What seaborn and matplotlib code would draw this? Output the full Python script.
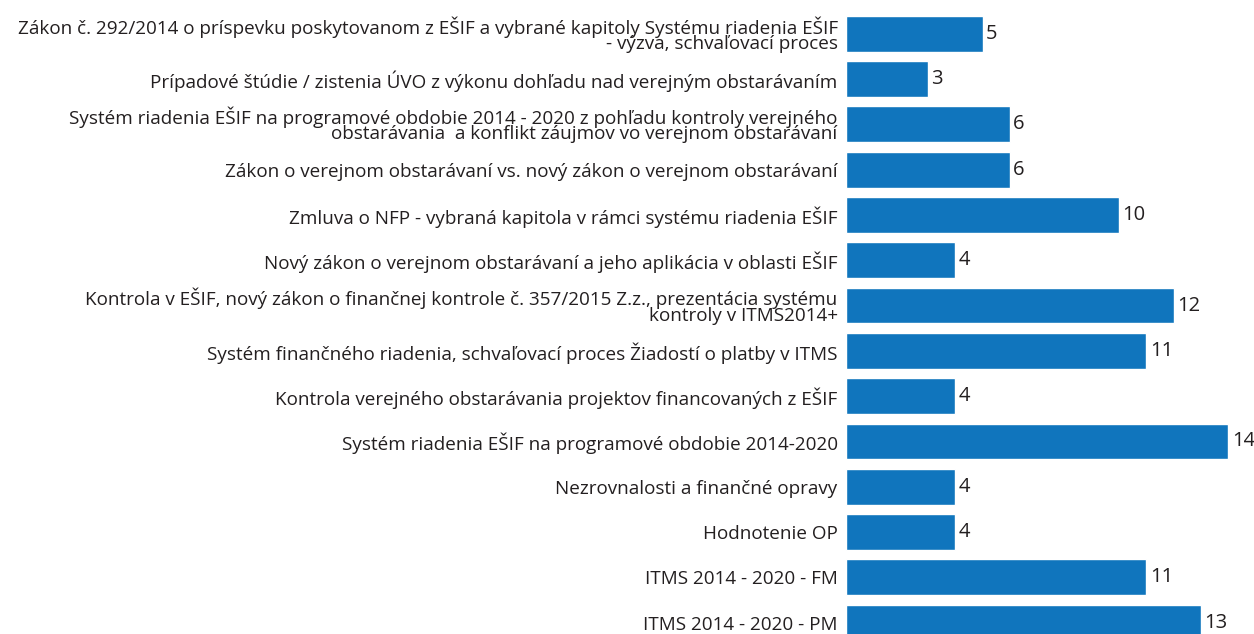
import matplotlib
matplotlib.use("Agg")
import matplotlib.pyplot as plt
import seaborn as sns
import pandas as pd

# Data
categories = [
    "Zákon č. 292/2014 o príspevku poskytovanom z EŠIF a vybrané kapitoly Systému riadenia EŠIF\n- výzva, schvaľovací proces",
    "Prípadové štúdie / zistenia ÚVO z výkonu dohľadu nad verejným obstarávaním",
    "Systém riadenia EŠIF na programové obdobie 2014 - 2020 z pohľadu kontroly verejného\nobstarávania  a konflikt záujmov vo verejnom obstarávaní",
    "Zákon o verejnom obstarávaní vs. nový zákon o verejnom obstarávaní",
    "Zmluva o NFP - vybraná kapitola v rámci systému riadenia EŠIF",
    "Nový zákon o verejnom obstarávaní a jeho aplikácia v oblasti EŠIF",
    "Kontrola v EŠIF, nový zákon o finančnej kontrole č. 357/2015 Z.z., prezentácia systému\nkontroly v ITMS2014+",
    "Systém finančného riadenia, schvaľovací proces Žiadostí o platby v ITMS",
    "Kontrola verejného obstarávania projektov financovaných z EŠIF",
    "Systém riadenia EŠIF na programové obdobie 2014-2020",
    "Nezrovnalosti a finančné opravy",
    "Hodnotenie OP",
    "ITMS 2014 - 2020 - FM",
    "ITMS 2014 - 2020 - PM",
]
counts = [5, 3, 6, 6, 10, 4, 12, 11, 4, 14, 4, 4, 11, 13]

BAR_COLOR = "#1075BD"
TEXT_COLOR = "#231F20"

sns.set_style("white")
plt.rcParams["font.family"] = ["Open Sans", "DejaVu Sans"]

df = pd.DataFrame({"tema": categories, "pocet": counts})

fig = plt.figure(figsize=(12.54, 6.34), dpi=100)
left = 846 / 1254
ax = fig.add_axes([left, 0, 1 - left, 1])

sns.barplot(data=df, y="tema", x="pocet", orient="h", color=BAR_COLOR,
            saturation=1, width=0.79, ax=ax)

# scale: ~27.3 px per unit, ~45.3 px per row
ax.set_xlim(0, 408 / 27.3)
ax.set_ylim(13.25, -0.746)

ax.set_yticks(range(len(categories)))
ax.set_yticklabels(categories, fontsize=13.6, color=TEXT_COLOR, linespacing=0.8)
ax.tick_params(axis="y", length=0, pad=6)
ax.set_xticks([])
ax.set_xlabel("")
ax.set_ylabel("")
sns.despine(ax=ax, left=True, bottom=True)

ax.bar_label(ax.containers[0], padding=2.5, fontsize=14.5, color=TEXT_COLOR)

fig.savefig("out.png", dpi=100)
